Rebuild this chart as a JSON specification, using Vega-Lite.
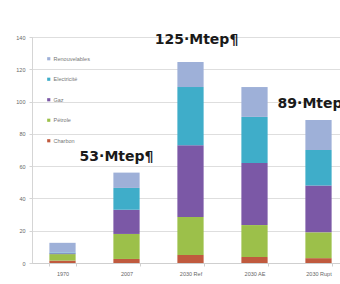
{
  "$schema": "https://vega.github.io/schema/vega-lite/v6.json",
  "autosize": "none",
  "width": 308,
  "height": 226,
  "padding": {"left": 32, "top": 37, "right": 0, "bottom": 21},
  "background": "#ffffff",
  "config": {"view": {"stroke": null}},
  "datasets": {
    "energie": [
      {"annee": "1970", "source": "Charbon", "ordre": 1, "mtep": 1.5},
      {"annee": "1970", "source": "Pétrole", "ordre": 2, "mtep": 4},
      {"annee": "1970", "source": "Gaz", "ordre": 3, "mtep": 0.5},
      {"annee": "1970", "source": "Electricité", "ordre": 4, "mtep": 0.5},
      {"annee": "1970", "source": "Renouvelables", "ordre": 5, "mtep": 6},
      {"annee": "2007", "source": "Charbon", "ordre": 1, "mtep": 2.5},
      {"annee": "2007", "source": "Pétrole", "ordre": 2, "mtep": 15.5},
      {"annee": "2007", "source": "Gaz", "ordre": 3, "mtep": 15},
      {"annee": "2007", "source": "Electricité", "ordre": 4, "mtep": 13.5},
      {"annee": "2007", "source": "Renouvelables", "ordre": 5, "mtep": 9.5},
      {"annee": "2030 Ref", "source": "Charbon", "ordre": 1, "mtep": 5},
      {"annee": "2030 Ref", "source": "Pétrole", "ordre": 2, "mtep": 23.5},
      {"annee": "2030 Ref", "source": "Gaz", "ordre": 3, "mtep": 44.5},
      {"annee": "2030 Ref", "source": "Electricité", "ordre": 4, "mtep": 36},
      {"annee": "2030 Ref", "source": "Renouvelables", "ordre": 5, "mtep": 15.5},
      {"annee": "2030 AE", "source": "Charbon", "ordre": 1, "mtep": 3.7},
      {"annee": "2030 AE", "source": "Pétrole", "ordre": 2, "mtep": 19.8},
      {"annee": "2030 AE", "source": "Gaz", "ordre": 3, "mtep": 38.5},
      {"annee": "2030 AE", "source": "Electricité", "ordre": 4, "mtep": 28.5},
      {"annee": "2030 AE", "source": "Renouvelables", "ordre": 5, "mtep": 18.5},
      {"annee": "2030 Rupt", "source": "Charbon", "ordre": 1, "mtep": 3},
      {"annee": "2030 Rupt", "source": "Pétrole", "ordre": 2, "mtep": 16},
      {"annee": "2030 Rupt", "source": "Gaz", "ordre": 3, "mtep": 29},
      {"annee": "2030 Rupt", "source": "Electricité", "ordre": 4, "mtep": 22},
      {"annee": "2030 Rupt", "source": "Renouvelables", "ordre": 5, "mtep": 18.6}
    ],
    "etiquettes": [
      {"annee": "2007", "mtep": 65.5, "texte": "53·Mtep¶"},
      {"annee": "2030 Ref", "mtep": 138, "texte": "125·Mtep¶"},
      {"annee": "2030 Rupt", "mtep": 98.5, "texte": "89·Mtep¶"}
    ]
  },
  "encoding": {
    "x": {
      "field": "annee",
      "type": "nominal",
      "sort": ["1970", "2007", "2030 Ref", "2030 AE", "2030 Rupt"],
      "scale": {"range": [-1.5, 318.5], "paddingInner": 0.59, "paddingOuter": 0.295},
      "axis": {
        "title": null,
        "labelAngle": 0,
        "labelFontSize": 5.5,
        "labelColor": "#666666",
        "labelPadding": 5,
        "domainColor": "#cfcfcf",
        "tickColor": "#cfcfcf",
        "tickBand": "extent",
        "tickSize": 3,
        "grid": false
      }
    },
    "y": {
      "field": "mtep",
      "type": "quantitative",
      "scale": {"domain": [0, 140]},
      "axis": {
        "title": null,
        "values": [0, 20, 40, 60, 80, 100, 120, 140],
        "labelOverlap": false,
        "labelFlush": false,
        "labelFontSize": 5.5,
        "labelColor": "#666666",
        "labelPadding": 4,
        "domainColor": "#d5d5d5",
        "tickColor": "#d5d5d5",
        "tickSize": 3,
        "gridColor": "#dedede",
        "gridWidth": 1
      }
    }
  },
  "layer": [
    {
      "data": {"name": "energie"},
      "mark": {"type": "bar"},
      "encoding": {
        "color": {
          "field": "source",
          "type": "nominal",
          "scale": {
            "domain": ["Renouvelables", "Electricité", "Gaz", "Pétrole", "Charbon"],
            "range": ["#9eb0d8", "#3fadc9", "#7b58a6", "#9cc04a", "#c05a3e"]
          },
          "legend": {
            "title": null,
            "orient": "none",
            "legendX": 14,
            "legendY": 19,
            "symbolType": "square",
            "symbolSize": 10,
            "labelFontSize": 5.5,
            "labelColor": "#777777",
            "labelOffset": 2,
            "rowPadding": 13.5
          }
        },
        "order": {"field": "ordre", "type": "quantitative", "sort": "ascending"}
      }
    },
    {
      "data": {"name": "etiquettes"},
      "transform": [{"filter": "datum.annee == '2007'"}],
      "mark": {"type": "text", "font": "DejaVu Sans", "fontWeight": "bold", "fontSize": 14, "color": "#1a1a1a", "baseline": "middle", "dx": -10},
      "encoding": {"text": {"field": "texte"}}
    },
    {
      "data": {"name": "etiquettes"},
      "transform": [{"filter": "datum.annee == '2030 Ref'"}],
      "mark": {"type": "text", "font": "DejaVu Sans", "fontWeight": "bold", "fontSize": 14, "color": "#1a1a1a", "baseline": "middle", "dx": 6},
      "encoding": {"text": {"field": "texte"}}
    },
    {
      "data": {"name": "etiquettes"},
      "transform": [{"filter": "datum.annee == '2030 Rupt'"}],
      "mark": {"type": "text", "font": "DejaVu Sans", "fontWeight": "bold", "fontSize": 14, "color": "#1a1a1a", "baseline": "middle", "dx": -4},
      "encoding": {"text": {"field": "texte"}}
    }
  ]
}
